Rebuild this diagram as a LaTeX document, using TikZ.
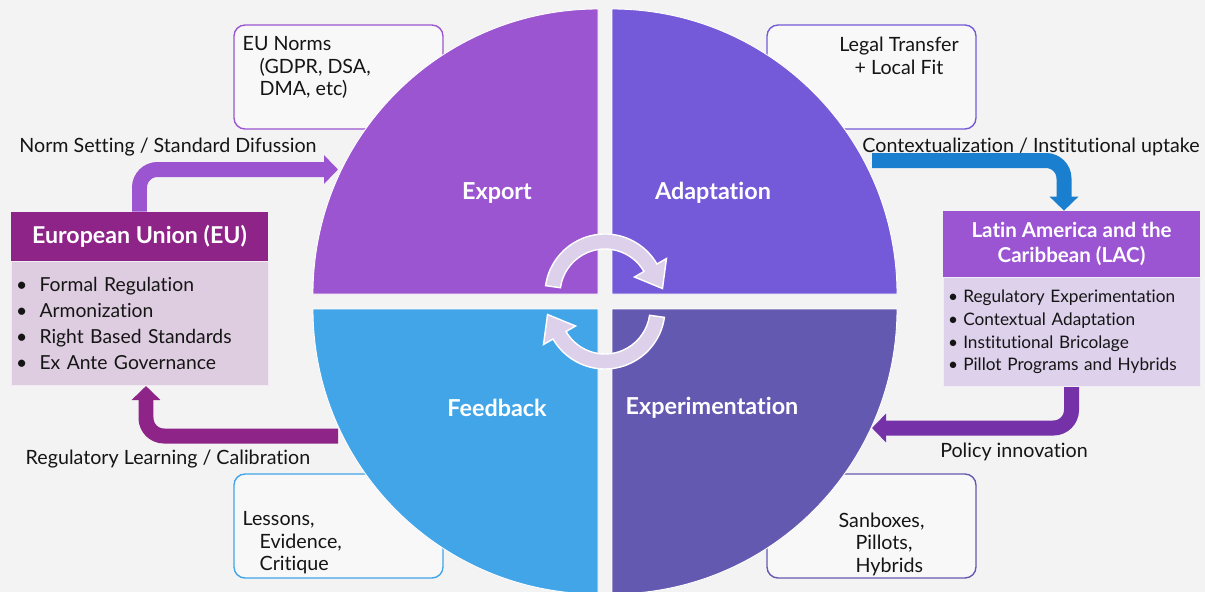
\documentclass[tikz,border=0pt]{standalone}
\usepackage{fontspec}
\setmainfont{Lato}[Ligatures=NoCommon]
\usetikzlibrary{arrows.meta,positioning,calc}

\definecolor{bgcol}{HTML}{F3F3F3}
\definecolor{exportcol}{HTML}{9B55D0}
\definecolor{adaptcol}{HTML}{7459D8}
\definecolor{feedcol}{HTML}{42A5E8}
\definecolor{expercol}{HTML}{6459B0}
\definecolor{euheadcol}{HTML}{8E2488}
\definecolor{eubodycol}{HTML}{DECCE0}
\definecolor{lacheadcol}{HTML}{9B55D3}
\definecolor{lacbodycol}{HTML}{DDD1EB}
\definecolor{cyclecol}{HTML}{DDD0EA}
\definecolor{uptakecol}{HTML}{1B7FD0}
\definecolor{policycol}{HTML}{7431A8}
\definecolor{calloutcol}{HTML}{F8F8F8}
\definecolor{inkcol}{HTML}{151515}

\newcommand{\ind}{\hspace*{0.34cm}}

\begin{document}
\begin{tikzpicture}[x=0.02cm,y=0.02cm,
    quadlabel/.style={text=white,font=\fontsize{13.3}{16}\selectfont\bfseries},
    headbox/.style={minimum width=5.14cm,inner sep=0pt,text=white,align=center},
    listbox/.style={text width=4.94cm,inner xsep=0.1cm,inner ysep=0pt,align=left,text=inkcol,draw=white!60!#1,fill=#1},
    callout/.style={draw=#1,line width=0.8pt,fill=calloutcol,rounded corners=0.22cm,minimum width=4.18cm,minimum height=2.08cm},
    calltext/.style={inner sep=0pt,align=left,text=inkcol,font=\fontsize{11.2}{12.8}\selectfont},
    flowlabel/.style={text=inkcol,font=\fontsize{11.2}{13}\selectfont},
    fat/.style={line width=0.3cm,rounded corners=0.36cm,-{Triangle[width=0.56cm,length=0.28cm]}}]

\fill[bgcol] (0,0) rectangle (1205,-592);
\useasboundingbox (0,0) rectangle (1205,-592);

% callout boxes behind the circle
\node[callout=exportcol] (norms) at (338.5,-77) {};
\node[callout=adaptcol] (transfer) at (871.5,-77) {};
\node[callout=feedcol] (lessons) at (338.5,-526) {};
\node[callout=expercol] (sandbox) at (871.5,-526) {};

\node[calltext,anchor=north west] (normstext) at ($(norms.north west)+(9,-12)$)
  {EU Norms\\\ind(GDPR, DSA,\\\ind DMA, etc)};
\node[calltext,anchor=north,align=center] (transfertext) at (899,-37)
  {Legal Transfer\\+ Local Fit};
\node[calltext,anchor=north west] (lessonstext) at ($(lessons.north west)+(9,-38)$)
  {Lessons,\\\ind Evidence,\\\ind Critique};
\node[calltext,anchor=north west] (sandboxtext) at ($(sandbox.north west)+(72,-39)$)
  {Sanboxes,\\\ind Pillots,\\\ind Hybrids};

% the two regions
\node[headbox,fill=euheadcol,minimum height=0.98cm,font=\fontsize{13.2}{15}\selectfont\bfseries] (eu) at (139.5,-236.5) {European Union (EU)};
\node[listbox=eubodycol,minimum height=2.48cm,below=0pt of eu,font=\fontsize{11}{14.8}\selectfont] (eulist)
  {\textbullet\hspace{7pt}Formal Regulation\\\textbullet\hspace{7pt}Armonization\\\textbullet\hspace{7pt}Right Based Standards\\\textbullet\hspace{7pt}Ex Ante Governance\\[5pt]};

\node[headbox,fill=lacheadcol,minimum height=1.32cm,font=\fontsize{11.7}{14}\selectfont\bfseries] (lac) at (1071.5,-244) {Latin America and the\\Caribbean (LAC)};
\node[listbox=lacbodycol,minimum height=2.18cm,below=0pt of lac,font=\fontsize{9.8}{12.9}\selectfont] (laclist)
  {\textbullet\hspace{3pt}Regulatory Experimentation\\\textbullet\hspace{3pt}Contextual Adaptation\\\textbullet\hspace{3pt}Institutional Bricolage\\\textbullet\hspace{3pt}Pillot Programs and Hybrids};

% flows between the regions and the cycle
\coordinate (exportin) at (338,-169.5);
\coordinate (adaptout) at (872,-160.5);
\coordinate (experin) at (872,-428);
\coordinate (feedout) at (338,-436);

\draw[fat,exportcol] (eu.north) |- (exportin);
\draw[fat,uptakecol] (adaptout) -| ([xshift=-0.15cm]lac.north);
\draw[fat,policycol] (laclist.south) |- (experin);
\draw[fat,euheadcol] (feedout) -| ([xshift=0.13cm]eulist.south);

\node[flowlabel] (normlbl) at (168,-147) {Norm Setting / Standard Difussion};
\node[flowlabel] (uptakelbl) at (1031,-147) {Contextualization / Institutional uptake};
\node[flowlabel] (policylbl) at (1014,-452) {Policy innovation};
\node[flowlabel] (learnlbl) at (168,-459) {Regulatory Learning / Calibration};

% four quarters of the cycle
\fill[exportcol,draw=white,line width=0.5pt] (598,-294) -- ++(-285,0) arc[start angle=180,end angle=90,radius=285] -- cycle;
\fill[adaptcol,draw=white,line width=0.5pt] (612,-294) -- ++(0,285) arc[start angle=90,end angle=0,radius=285] -- cycle;
\fill[feedcol,draw=white,line width=0.5pt] (598,-309) -- ++(0,-285) arc[start angle=270,end angle=180,radius=285] -- cycle;
\fill[expercol,draw=white,line width=0.5pt] (612,-309) -- ++(285,0) arc[start angle=0,end angle=-90,radius=285] -- cycle;

\node[quadlabel] (export) at (497,-193) {Export};
\node[quadlabel] (adapt) at (713,-193) {Adaptation};
\node[quadlabel] (feed) at (497,-408) {Feedback};
\node[quadlabel] (exper) at (712,-408) {Experimentation};

% circular arrows in the middle
\begin{scope}[shift={(605,-294)}]
  \filldraw[cyclecol,draw=white,line width=0.8pt] (172:60) arc[start angle=172,end angle=30,radius=60]
    -- (30:71) -- ($(30:52.5)+(-60:24)$) -- (30:34) -- (30:45)
    arc[start angle=30,end angle=172,radius=45] -- cycle;
\end{scope}
\begin{scope}[shift={(605,-309)}]
  \filldraw[cyclecol,draw=white,line width=0.8pt] (-8:60) arc[start angle=-8,end angle=-150,radius=60]
    -- (-150:71) -- ($(-150:52.5)+(120:24)$) -- (-150:34) -- (-150:45)
    arc[start angle=-150,end angle=-8,radius=45] -- cycle;
\end{scope}
\end{tikzpicture}
\end{document}
